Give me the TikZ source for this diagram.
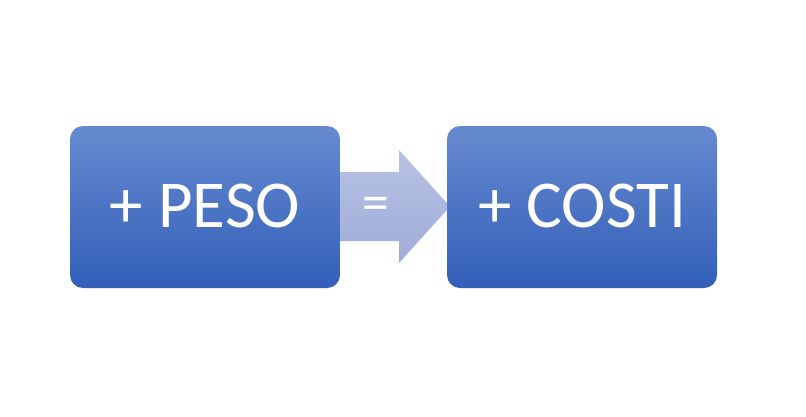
\documentclass[tikz,border=0pt]{standalone}
\usepackage{fontspec}
\setmainfont{Carlito}
\usetikzlibrary{calc}

\tikzset{
    blok/.style={rounded corners=13pt, minimum width=270pt, minimum height=162pt,
        inner sep=0pt, top color=boxtop, bottom color=boxbot, draw=none,
        text=white, font=\fontsize{67}{80}\selectfont, text depth=2pt},
}
\definecolor{boxtop}{RGB}{102,138,207}
\definecolor{boxbot}{RGB}{51,95,185}
\definecolor{arrtop}{RGB}{184,194,228}
\definecolor{arrbot}{RGB}{160,172,216}

\begin{document}
\begin{tikzpicture}[x=1pt,y=-1pt]
        \useasboundingbox (0,0) rectangle (806,416);
        % arrow between the boxes
        \coordinate (a1) at (334,172);
        \coordinate (a2) at (399,172);
        \coordinate (a3) at (399,150);
        \coordinate (tip) at (450,206.5);
        \coordinate (a4) at (399,263);
        \coordinate (a5) at (399,241);
        \coordinate (a6) at (334,241);
        \shade[top color=arrtop, bottom color=arrbot] (a1) -- (a2) -- (a3) -- (tip) -- (a4) -- (a5) -- (a6) -- cycle;
        \node[text=white, font=\fontsize{54}{64}\selectfont] (eq) at (376,209) {=};
        % boxes
        \node[blok] (peso) at (205,207) {+ PESO};
        \node[blok] (costi) at (582,207) {+ COSTI};
    \end{tikzpicture}
\end{document}
